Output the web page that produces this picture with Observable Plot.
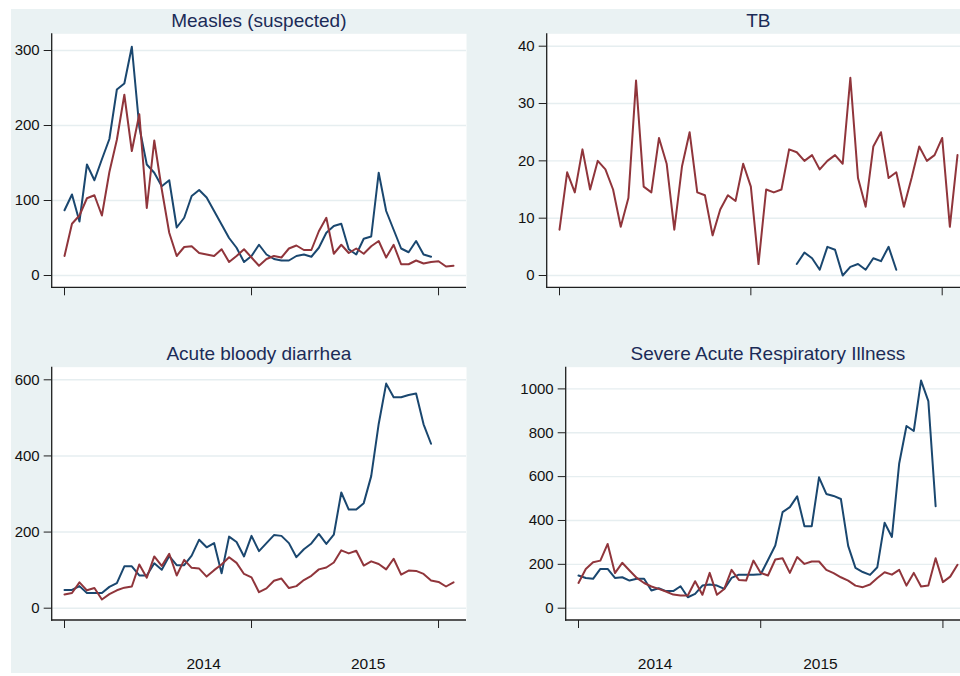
<!DOCTYPE html>
<html>
<head>
<meta charset="utf-8">
<script src="https://cdn.jsdelivr.net/npm/d3@7"></script>
<script src="https://cdn.jsdelivr.net/npm/@observablehq/plot@0.6"></script>
<style>
html, body { margin: 0; padding: 0; background: #ffffff; width: 960px; height: 676px; overflow: hidden;
  font-family: "Liberation Sans", Arial, sans-serif; }
#bg { position: absolute; left: 11px; top: 9px; width: 949px; height: 664px; background: #eaf2f3; }
.panel { position: absolute; }
.panel svg { display: block; max-width: none !important; }
.title { position: absolute; font-size: 19px; color: #1b2b57; white-space: nowrap;
  transform: translate(-50%, -50%); line-height: 1; }
</style>
</head>
<body>
<div id="bg"></div>
<div id="root"></div>
<script>
// ---- data (period index 0..52) ----
const periods = d3.range(53);
const xTicks = [0, 25, 50];

const measlesTitle = "Measles (suspected)";
const measlesYTicks = [0, 100, 200, 300];
const measlesBlue = [87,108,72,148,127,155,182,248,256,305,198,148,137,119,127,64,77,106,114,104,86,68,50,37,18,
  26,41,28,22,20,20,26,28,25,37,57,66,69,35,28,49,52,137,86,61,36,31,46,28,25];
const measlesRed = [26,69,80,103,107,80,138,181,241,166,215,90,180,115,57,26,38,39,30,28,26,35,18,26,35,
  24,13,22,26,24,36,40,34,34,59,77,29,41,30,36,29,39,46,24,41,15,15,20,16,18,19,12,13];

const tbTitle = "TB";
const tbYTicks = [0, 10, 20, 30, 40];
const tbBlue = [null,null,null,null,null,null,null,null,null,null,null,null,null,null,null,null,null,null,null,null,
  null,null,null,null,null,null,null,null,null,null,null,
  2,4,3,1,5,4.5,0,1.5,2,1,3,2.5,5,1];
const tbRed = [8,18,14.5,22,15,20,18.5,15,8.5,13.5,34,15.5,14.5,24,19.5,8,19,25,14.5,14,7,11.5,14,13,19.5,
  15.5,2,15,14.5,15,22,21.5,20,21,18.5,20,21,19.5,34.5,17,12,22.5,25,17,18,12,17,22.5,20,21,24,8.5,21];

const diarTitle = "Acute bloody diarrhea";
const diarYTicks = [0, 200, 400, 600];
const diarBlue = [48,48,58,40,40,40,56,66,110,110,86,86,118,101,137,113,113,138,180,160,171,92,188,174,136,
  190,150,171,192,190,171,134,155,170,195,169,193,304,259,259,276,347,484,590,554,554,560,564,483,432];
const diarRed = [36,40,68,47,53,23,37,47,54,57,115,80,136,111,143,86,127,106,104,83,100,115,134,119,90,
  81,42,52,72,78,53,58,74,85,102,107,120,152,144,151,112,123,116,102,130,88,99,98,90,73,69,57,68];
const diarYearTicks = [18.6, 40.6];

const sariTitle = "Severe Acute Respiratory Illness";
const sariYTicks = [0, 200, 400, 600, 800, 1000];
const sariBlue = [149,138,134,179,179,138,141,126,134,134,81,91,78,78,100,50,65,103,108,103,88,138,153,153,153,
  155,220,286,438,461,510,374,374,597,521,512,498,284,184,165,152,187,390,325,660,831,808,1038,944,465];
const sariRed = [115,179,210,217,293,160,207,172,138,115,99,88,76,62,58,58,123,61,161,61,88,175,129,126,217,
  161,149,222,228,161,233,202,213,213,175,160,141,126,103,96,108,138,164,153,175,103,161,99,103,228,119,144,198];
const sariYearTicks = [10.5, 33.2];

const yearLabels = ["2014", "2015"];

// ---- styling ----
const BLUE = "#1a476f";
const RED = "#90353b";
const AXIS = "#1f1f1f";

const axisLines = (index, scales, values, dims) => {
  const g = d3.create("svg:g").attr("stroke", AXIS).attr("stroke-width", 1.3).attr("fill", "none");
  const x0 = dims.marginLeft, x1 = dims.width - dims.marginRight;
  const y0 = dims.marginTop, y1 = dims.height - dims.marginBottom;
  g.append("line").attr("x1", x0).attr("x2", x0).attr("y1", y0).attr("y2", y1 + 0.65);
  g.append("line").attr("x1", x0 - 0.65).attr("x2", x1).attr("y1", y1).attr("y2", y1);
  return g.node();
};

function panel(o) {
  const marks = [
    Plot.frame({fill: "white", stroke: "none"}),
    Plot.gridY(o.yTicks, {stroke: "#e6eef0", strokeOpacity: 1, strokeWidth: 1.4}),
    Plot.axisY(o.yTicks, {tickSize: 8, tickPadding: 4.5, label: null, stroke: AXIS, fill: "#111", fontSize: 15,
      tickFormat: d => String(d)}),
    Plot.axisX(xTicks, {tickSize: 8, tickFormat: () => "", label: null, stroke: AXIS}),
    axisLines,
    Plot.lineY(o.blue, {x: periods.slice(0, o.blue.length), y: o.blue, stroke: BLUE, strokeWidth: 2}),
    Plot.lineY(o.red, {x: periods.slice(0, o.red.length), y: o.red, stroke: RED, strokeWidth: 2})
  ];
  if (o.yearTicks) {
    marks.push(Plot.text(yearLabels, {x: o.yearTicks, text: yearLabels, frameAnchor: "bottom", dy: 48,
      fontSize: 15.5, fill: "#111"}));
  }
  const chart = Plot.plot({
    width: o.width, height: o.height,
    marginTop: o.mt, marginBottom: o.mb, marginLeft: o.ml, marginRight: o.mr,
    style: {background: "transparent", fontFamily: "'Liberation Sans', Arial, sans-serif", fontSize: "15px", color: "#111", maxWidth: "none"},
    x: {domain: [0, 52], insetLeft: 12.3, insetRight: 13},
    y: {domain: o.yDomain, insetTop: o.insetTop, insetBottom: 12.3},
    marks
  });
  const div = document.createElement("div");
  div.className = "panel";
  div.style.left = o.left + "px";
  div.style.top = o.top + "px";
  div.style.width = o.width + "px";
  div.style.height = o.height + "px";
  div.appendChild(chart);
  document.getElementById("root").appendChild(div);

  const t = document.createElement("div");
  t.className = "title";
  t.textContent = o.title;
  t.style.left = (o.left + o.ml + (o.width - o.ml - o.mr) / 2) + "px";
  t.style.top = o.titleY + "px";
  document.getElementById("root").appendChild(t);
}

panel({left: 0, top: 0, width: 480, height: 300, mt: 33.3, mb: 12.7, ml: 51.7, mr: 14,
  yDomain: [0, 300], insetTop: 16.7, yTicks: measlesYTicks, blue: measlesBlue, red: measlesRed,
  title: measlesTitle, titleY: 20});
panel({left: 480, top: 0, width: 500, height: 300, mt: 33.3, mb: 12.7, ml: 66.7, mr: 10,
  yDomain: [0, 40], insetTop: 12.4, yTicks: tbYTicks, blue: tbBlue, red: tbRed,
  title: tbTitle, titleY: 20});
panel({left: 0, top: 330, width: 480, height: 346, mt: 36.7, mb: 56, ml: 51.7, mr: 14,
  yDomain: [0, 600], insetTop: 12.6, yTicks: diarYTicks, blue: diarBlue, red: diarRed,
  yearTicks: diarYearTicks, title: diarTitle, titleY: 353});
panel({left: 480, top: 330, width: 500, height: 346, mt: 36.7, mb: 56, ml: 85.7, mr: 10,
  yDomain: [0, 1000], insetTop: 21.7, yTicks: sariYTicks, blue: sariBlue, red: sariRed,
  yearTicks: sariYearTicks, title: sariTitle, titleY: 353});
</script>
</body>
</html>
